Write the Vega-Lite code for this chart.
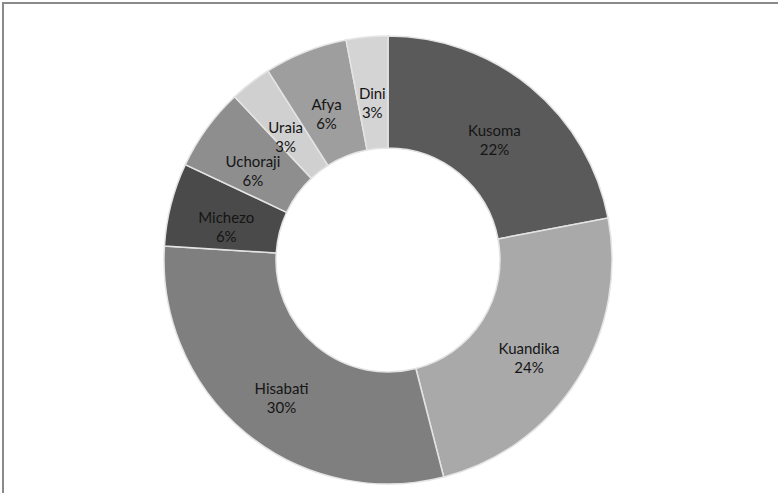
{
  "$schema": "https://vega.github.io/schema/vega-lite/v6.json",
  "width": 778,
  "height": 493,
  "autosize": "none",
  "padding": {"left": 3, "top": 3, "right": -3, "bottom": -3},
  "background": "white",
  "config": {"view": {"stroke": "#8a8a8a", "strokeWidth": 2}},
  "data": {
    "values": [
      {"rank": 1, "category": "Kusoma", "value": 22, "label": "Kusoma\n22%"},
      {"rank": 2, "category": "Kuandika", "value": 24, "label": "Kuandika\n24%"},
      {"rank": 3, "category": "Hisabati", "value": 30, "label": "Hisabati\n30%"},
      {"rank": 4, "category": "Michezo", "value": 6, "label": "Michezo\n6%"},
      {"rank": 5, "category": "Uchoraji", "value": 6, "label": "Uchoraji\n6%"},
      {"rank": 6, "category": "Uraia", "value": 3, "label": "Uraia\n3%"},
      {"rank": 7, "category": "Afya", "value": 6, "label": "Afya\n6%"},
      {"rank": 8, "category": "Dini", "value": 3, "label": "Dini\n3%"}
    ]
  },
  "encoding": {
    "theta": {"field": "value", "type": "quantitative", "stack": true},
    "order": {"field": "rank", "type": "quantitative"},
    "x": {"value": 385},
    "y": {"value": 257}
  },
  "layer": [
    {
      "mark": {"type": "arc", "outerRadius": 224, "innerRadius": 112, "stroke": "#e4e4e4", "strokeWidth": 1.5},
      "encoding": {
        "color": {
          "field": "category",
          "type": "nominal",
          "legend": null,
          "scale": {
            "domain": ["Kusoma", "Kuandika", "Hisabati", "Michezo", "Uchoraji", "Uraia", "Afya", "Dini"],
            "range": ["#5a5a5a", "#a9a9a9", "#7f7f7f", "#4a4a4a", "#8e8e8e", "#d0d0d0", "#9e9e9e", "#d4d4d4"]
          }
        }
      }
    },
    {
      "mark": {"type": "text", "radius": 167, "lineBreak": "\n", "font": "Lato", "fontSize": 15, "color": "#151515", "lineHeight": 19},
      "encoding": {"text": {"field": "label", "type": "nominal"}}
    }
  ]
}
